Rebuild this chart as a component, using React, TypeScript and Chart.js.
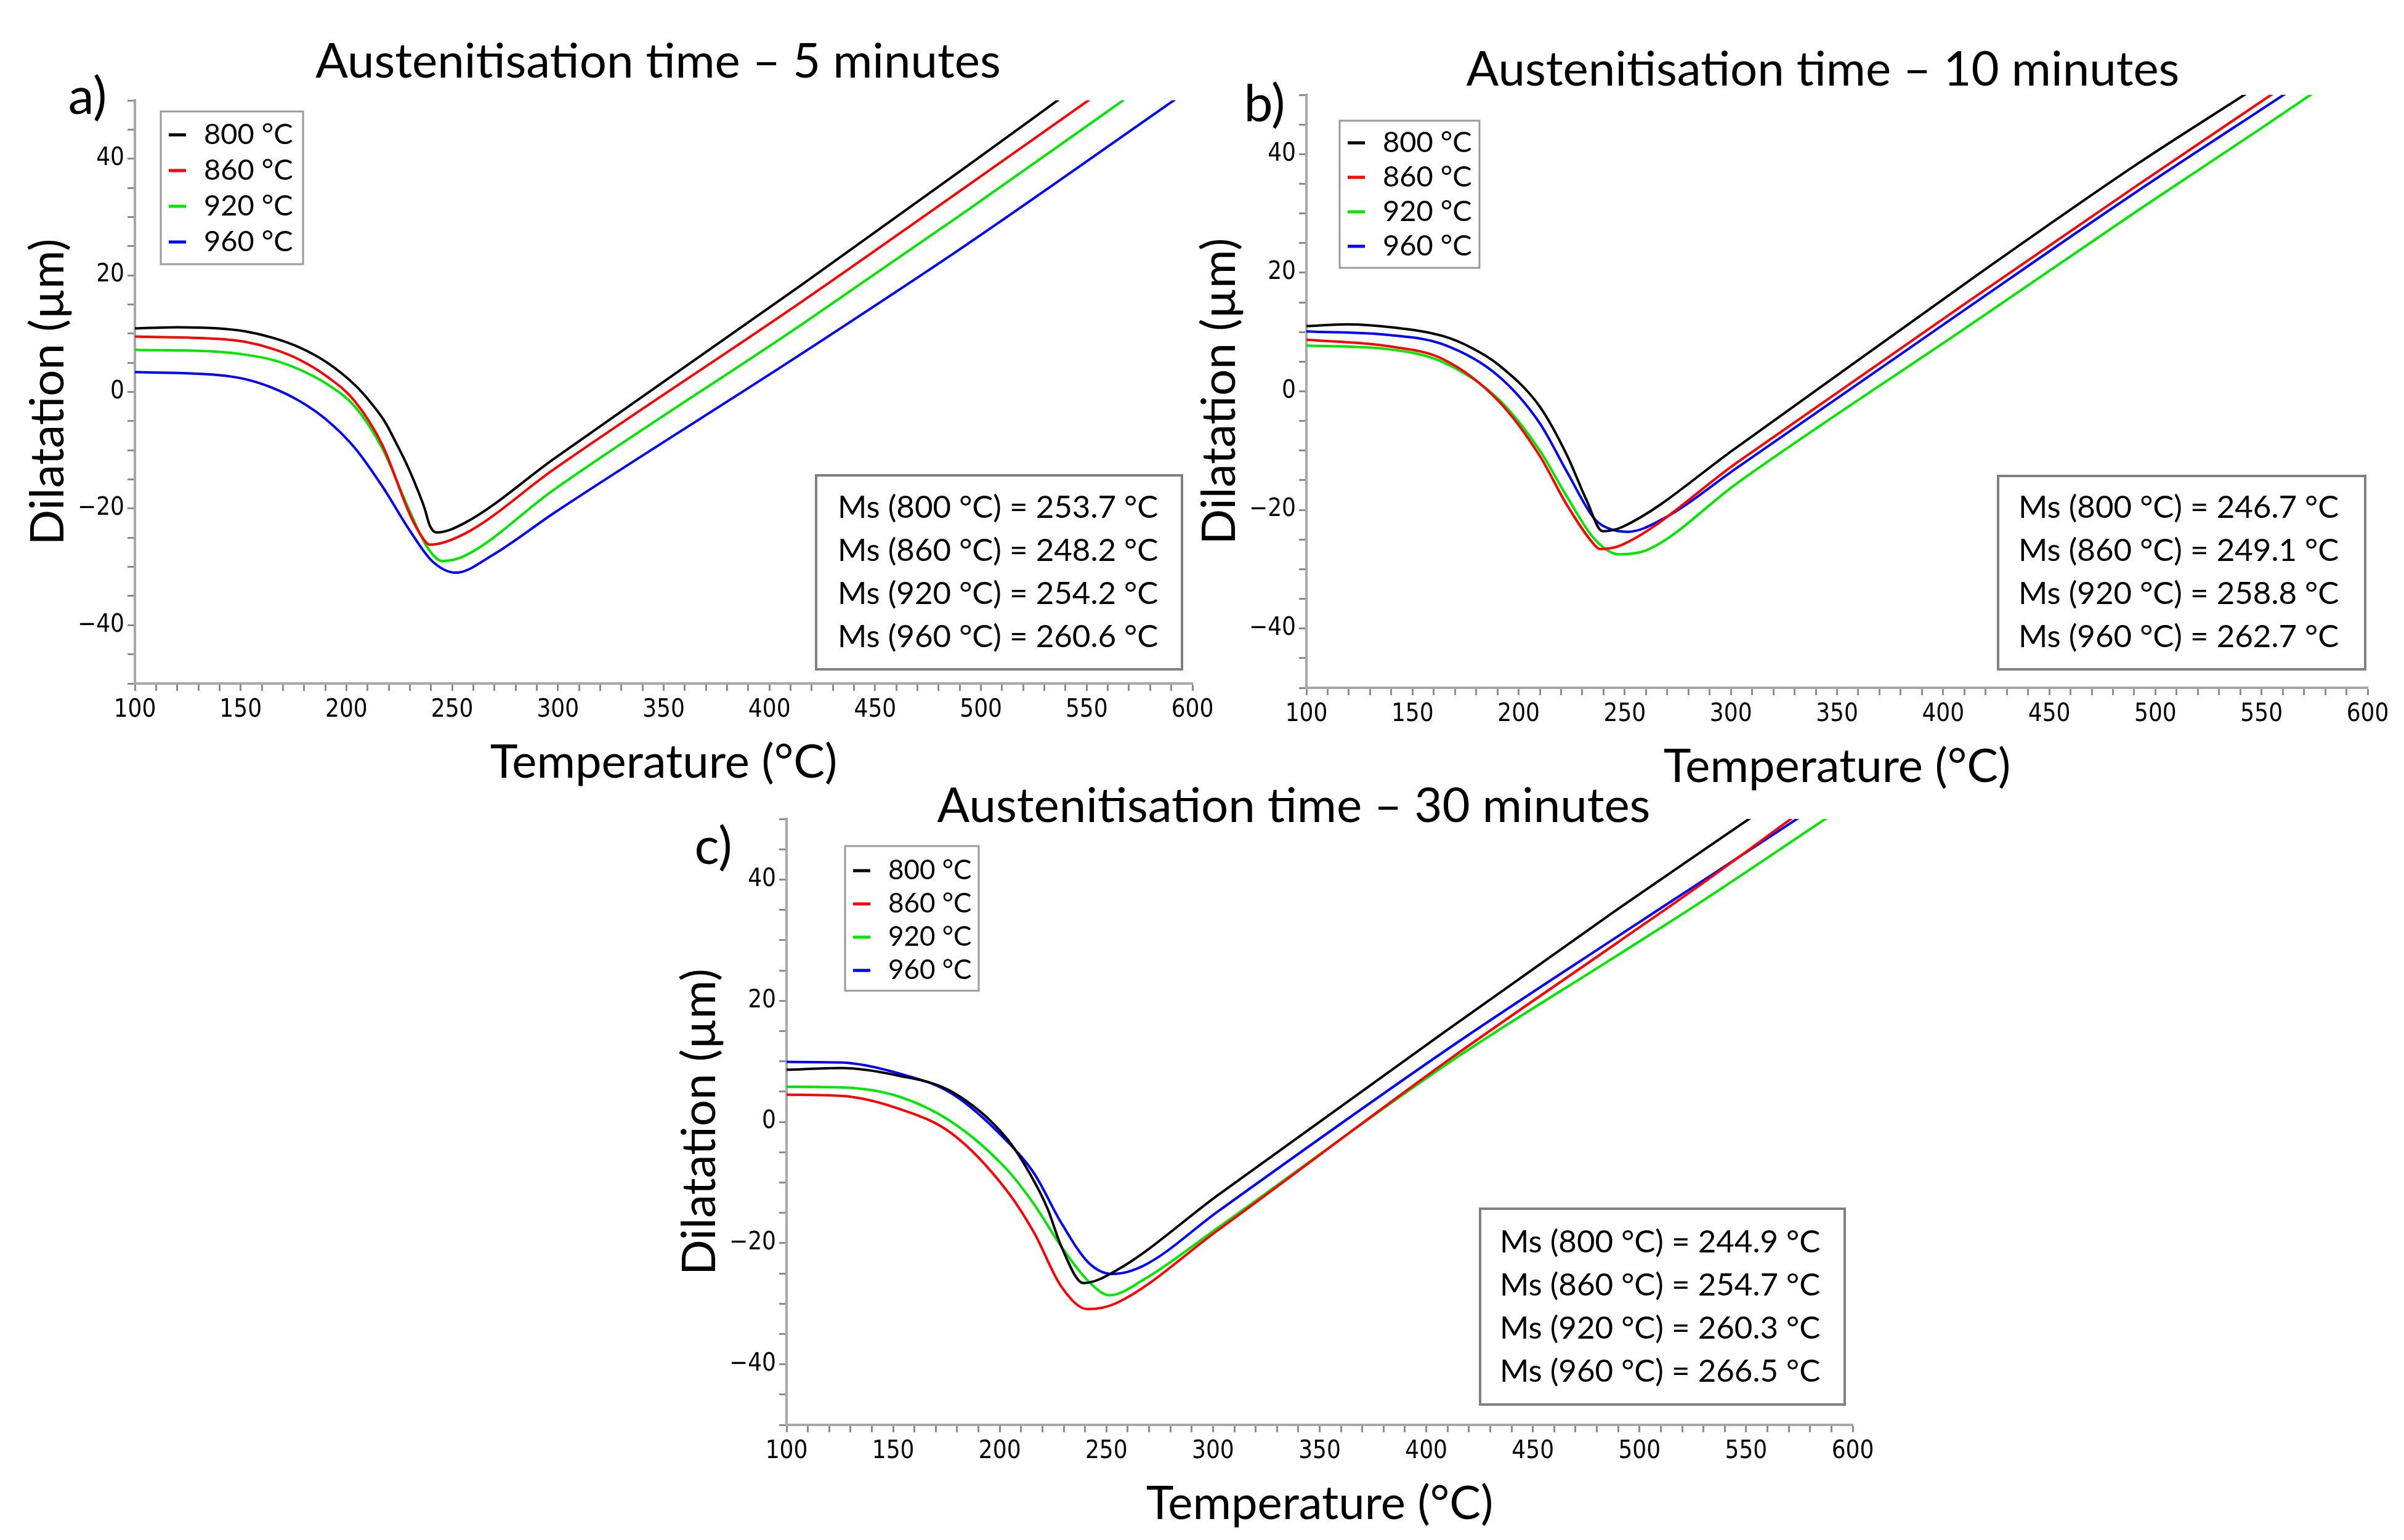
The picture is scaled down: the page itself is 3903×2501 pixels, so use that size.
import { useEffect, useRef } from 'react';
import { Chart, registerables } from 'chart.js';

Chart.register(...registerables);

type Pt = [number, number];

const FONT = 'Lato, "Noto Sans", sans-serif';
const TICK_FONT = '"Liberation Sans Narrow", "DejaVu Sans Condensed", Lato, sans-serif';

// series names and colours (same for every panel)
const seriesLabels = ['800 °C', '860 °C', '920 °C', '960 °C'];
const seriesColors = ['#000000', '#ff0000', '#00e600', '#0000ff'];

// tick labels
const xTickLabels = [100, 150, 200, 250, 300, 350, 400, 450, 500, 550, 600];
const yTickLabels = [-40, -20, 0, 20, 40];

// a) 5 minutes  [temperature °C, dilatation µm]
const a800: Pt[] = [[100, 10.9], [120, 11.1], [139, 10.9], [152, 10.4], [165, 9.3], [178, 7.6], [191, 5.0], [204, 1.2], [211, -1.6], [218, -5.0], [224, -9.1], [229, -12.8], [233, -16.2], [237, -20.0], [239.4, -22.9], [242.6, -24.1], [256.3, -22.4], [298, -11.5], [415, 18.3], [493, 38.6], [537, 50.2]];
const a860: Pt[] = [[100, 9.5], [139, 9.1], [152, 8.6], [165, 7.4], [178, 5.5], [191, 2.6], [204, -1.6], [217, -9.1], [230, -21.0], [236, -25.0], [239.4, -26.2], [256, -24.3], [298, -13.3], [415, 15.4], [493, 35.2], [552, 50.3]];
const a920: Pt[] = [[100, 7.2], [139, 6.9], [152, 6.4], [165, 5.5], [178, 3.8], [191, 1.3], [204, -2.5], [217, -9.7], [230, -20.5], [238, -26.5], [245.2, -29.0], [256, -28.1], [298, -16.8], [415, 11.5], [493, 31.0], [568, 50.2]];
const a960: Pt[] = [[100, 3.4], [139, 2.9], [152, 2.2], [165, 0.7], [178, -1.6], [191, -4.9], [204, -9.6], [217, -16.2], [230, -23.8], [240.5, -29.0], [251.7, -31.0], [269, -28.0], [298, -20.8], [415, 6.5], [493, 25.2], [592, 50.2]];
const msA = ['253.7', '248.2', '254.2', '260.6'];

// b) 10 minutes
const b800: Pt[] = [[100, 11.0], [119, 11.3], [140, 10.8], [164.5, 9.3], [178, 7.3], [190.4, 4.5], [209.8, -2.5], [222.8, -10.8], [231.9, -18.3], [239.6, -23.6], [248.7, -22.9], [302.9, -9.4], [413.6, 19.0], [491.3, 38.3], [542.8, 50.2]];
const b860: Pt[] = [[100, 8.7], [138.7, 7.6], [164.5, 5.4], [190.4, -1.6], [209.8, -10.8], [222.8, -19.2], [235.7, -25.9], [238.3, -26.6], [248.7, -25.9], [302.9, -12.0], [413.6, 15.6], [491.3, 34.7], [555.4, 50.2]];
const b920: Pt[] = [[100, 7.7], [138.7, 7.1], [164.5, 4.9], [190.4, -1.3], [209.8, -9.9], [222.8, -17.8], [235.7, -24.9], [247.4, -27.5], [261.6, -26.6], [302.9, -15.5], [413.6, 11.4], [491.3, 30.4], [549.6, 44.3], [573.9, 50.2]];
const b960: Pt[] = [[100, 10.1], [138.7, 9.5], [164.5, 7.9], [190.4, 2.6], [209.8, -5.3], [222.8, -13.6], [235.7, -21.5], [242.2, -23.1], [251.3, -23.7], [268.1, -21.5], [302.9, -12.9], [413.6, 14.6], [491.3, 33.7], [561.3, 50.2]];
const msB = ['246.7', '249.1', '258.8', '262.7'];

// c) 30 minutes
const c800: Pt[] = [[100, 8.6], [125.8, 8.9], [151.6, 7.7], [177.4, 5.0], [203.2, -2.7], [216.1, -9.8], [222.5, -14.4], [228.9, -20.6], [239.3, -26.6], [254.7, -24.5], [302.2, -12.1], [411.6, 15.6], [489.7, 35.1], [552.2, 50.2]];
const c860: Pt[] = [[100, 4.5], [125.8, 4.3], [151.6, 2.3], [177.4, -1.9], [203.2, -11.3], [216.1, -18.3], [228.9, -27.2], [241.2, -30.9], [254.7, -29.9], [302.2, -17.9], [411.6, 10.5], [489.7, 29.6], [528.8, 39.2], [571.8, 50.2]];
const c920: Pt[] = [[100, 5.8], [125.8, 5.7], [151.6, 4.3], [177.4, 0.0], [203.2, -7.8], [216.1, -13.6], [228.9, -20.6], [241.8, -26.4], [251.5, -28.6], [267.6, -26.0], [302.2, -17.5], [411.6, 10.0], [489.7, 27.5], [528.8, 36.3], [588, 50.2]];
const c960: Pt[] = [[100, 9.9], [125.8, 9.8], [151.6, 8.1], [177.4, 4.7], [203.2, -3.1], [216.1, -8.5], [228.9, -16.7], [241.8, -23.3], [252.8, -25.1], [267.6, -23.7], [302.2, -14.8], [411.6, 12.4], [489.7, 30.6], [528.8, 39.6], [574.7, 50.2]];
const msC = ['244.9', '254.7', '260.3', '266.5'];

// space kept around the plot area inside every canvas
const M = { l: 220, t: 160, r: 50, b: 175 };
const X_AXIS_H = 174;

interface Area { left: number; top: number; right: number; bottom: number }
interface LegendBox { dx: number; dy: number; w: number; h: number; row0: number; gap: number; font: number }
interface MsBox { dr: number; db: number; w: number; h: number; row0: number; gap: number; pad: number }

interface PanelProps {
  area: Area;
  title: string;
  titleDx: number;
  titleDy: number;
  letter: string;
  letterDx: number;
  letterDy: number;
  series: Pt[][];
  ms: string[];
  legend: LegendBox;
  msBox: MsBox;
}

const decorPlugin = {
  id: 'decor',
  afterDraw(chart: any, _args: any, o: any) {
    const { ctx, chartArea: ca } = chart;
    ctx.save();
    ctx.textBaseline = 'middle';
    ctx.fillStyle = '#000';

    // panel title and letter
    ctx.textAlign = 'center';
    ctx.font = `78px ${FONT}`;
    ctx.fillText(o.title, (ca.left + ca.right) / 2 + o.titleDx, ca.top + o.titleDy);
    ctx.font = `84px ${FONT}`;
    ctx.fillText(o.letter, ca.left + o.letterDx, ca.top + o.letterDy);

    // legend box, top left
    const lg: LegendBox = o.legend;
    const lx = ca.left + lg.dx;
    const ly = ca.top + lg.dy;
    ctx.fillStyle = '#fff';
    ctx.fillRect(lx, ly, lg.w, lg.h);
    ctx.strokeStyle = '#9a9a9a';
    ctx.lineWidth = 3;
    ctx.strokeRect(lx, ly, lg.w, lg.h);
    ctx.font = `${lg.font}px ${FONT}`;
    ctx.textAlign = 'left';
    chart.data.datasets.forEach((ds: any, i: number) => {
      const y = ly + lg.row0 + i * lg.gap;
      ctx.strokeStyle = ds.borderColor;
      ctx.lineWidth = 5;
      ctx.beginPath();
      ctx.moveTo(lx + 13, y);
      ctx.lineTo(lx + 41, y);
      ctx.stroke();
      ctx.fillStyle = '#000';
      ctx.fillText(ds.label, lx + 70, y);
    });

    // Ms box, bottom right
    const mb: MsBox = o.msBox;
    const mx = ca.right - mb.dr - mb.w;
    const my = ca.bottom - mb.db - mb.h;
    ctx.fillStyle = '#fff';
    ctx.fillRect(mx, my, mb.w, mb.h);
    ctx.strokeStyle = '#808080';
    ctx.lineWidth = 4;
    ctx.strokeRect(mx, my, mb.w, mb.h);
    ctx.font = `51px ${FONT}`;
    ctx.fillStyle = '#000';
    o.ms.forEach((v: string, i: number) => {
      ctx.fillText(`Ms (${seriesLabels[i]}) = ${v} °C`, mx + mb.pad, my + mb.row0 + i * mb.gap);
    });
    ctx.restore();
  },
};

function Panel(p: PanelProps) {
  const canvasRef = useRef<HTMLCanvasElement | null>(null);
  const width = p.area.right - p.area.left + M.l + M.r;
  const height = p.area.bottom - p.area.top + M.t + M.b;

  useEffect(() => {
    const ctx = canvasRef.current?.getContext('2d');
    if (!ctx) return;

    const chart = new Chart(ctx, {
      type: 'line',
      data: {
        datasets: p.series.map((s, i) => ({
          label: seriesLabels[i],
          data: s.map(([x, y]) => ({ x, y })),
          borderColor: seriesColors[i],
          backgroundColor: seriesColors[i],
          borderWidth: 4,
          pointRadius: 0,
          cubicInterpolationMode: 'monotone' as const,
          fill: false,
        })),
      },
      options: {
        responsive: false,
        animation: false,
        devicePixelRatio: 1,
        layout: { padding: { left: 0, top: M.t, right: M.r, bottom: M.b - X_AXIS_H } },
        plugins: {
          legend: { display: false },
          tooltip: { enabled: false },
          decor: {
            title: p.title,
            titleDx: p.titleDx,
            titleDy: p.titleDy,
            letter: p.letter,
            letterDx: p.letterDx,
            letterDy: p.letterDy,
            legend: p.legend,
            msBox: p.msBox,
            ms: p.ms,
          },
        } as any,
        scales: {
          x: {
            type: 'linear',
            min: 100,
            max: 600,
            afterFit: (s: any) => { s.height = X_AXIS_H; },
            border: { display: true, color: '#a8a8a8', width: 4 },
            grid: { drawOnChartArea: false, drawTicks: true, tickLength: 12, tickColor: '#8c8c8c', tickWidth: 3 },
            ticks: {
              stepSize: 10,
              autoSkip: false,
              maxRotation: 0,
              padding: 8,
              color: '#000',
              font: { family: TICK_FONT, size: 40 },
              callback: (v: any) => (xTickLabels.includes(Number(v)) ? String(v) : ''),
            },
            title: {
              display: true,
              text: 'Temperature (°C)',
              color: '#000',
              font: { family: FONT, size: 76 },
              padding: { top: 0, bottom: 0 },
            },
          },
          y: {
            type: 'linear',
            min: -50,
            max: 50,
            afterFit: (s: any) => { s.width = M.l; },
            border: { display: true, color: '#a8a8a8', width: 4 },
            grid: { drawOnChartArea: false, drawTicks: true, tickLength: 12, tickColor: '#8c8c8c', tickWidth: 3 },
            ticks: {
              stepSize: 5,
              autoSkip: false,
              padding: 5,
              color: '#000',
              font: { family: TICK_FONT, size: 40 },
              callback: (v: any) => {
                const n = Number(v);
                if (!yTickLabels.includes(n)) return '';
                return n < 0 ? `\u2212${Math.abs(n)}` : String(n);
              },
            },
            title: {
              display: true,
              text: 'Dilatation (µm)',
              color: '#000',
              font: { family: FONT, size: 76 },
              padding: { top: 34, bottom: 0 },
            },
          },
        },
      },
      plugins: [decorPlugin],
    });

    return () => {
      chart.destroy();
    };
  }, []);

  return (
    <canvas
      ref={canvasRef}
      width={width}
      height={height}
      style={{
        position: 'absolute',
        left: p.area.left - M.l,
        top: p.area.top - M.t,
        width,
        height,
      }}
    />
  );
}

export default function App() {
  return (
    <div
      style={{
        position: 'absolute',
        left: 0,
        top: 0,
        width: 3903,
        height: 2501,
        background: '#fff',
        overflow: 'hidden',
      }}
    >
      <Panel
        area={{ left: 219, top: 163, right: 1936, bottom: 1110 }}
        title="Austenitisation time – 5 minutes"
        titleDx={-9}
        titleDy={-62}
        letter="a)"
        letterDx={-77}
        letterDy={-5}
        series={[a800, a860, a920, a960]}
        ms={msA}
        legend={{ dx: 42, dy: 18, w: 231, h: 248, row0: 38, gap: 58, font: 47 }}
        msBox={{ dr: 17, db: 23, w: 594, h: 315, row0: 53, gap: 70, pad: 35 }}
      />
      <Panel
        area={{ left: 2121, top: 154, right: 3844, bottom: 1117 }}
        title="Austenitisation time – 10 minutes"
        titleDx={-23}
        titleDy={-40}
        letter="b)"
        letterDx={-68}
        letterDy={16}
        series={[b800, b860, b920, b960]}
        ms={msB}
        legend={{ dx: 54, dy: 42, w: 227, h: 239, row0: 36, gap: 56, font: 47 }}
        msBox={{ dr: 4, db: 30, w: 596, h: 314, row0: 52, gap: 70, pad: 33 }}
      />
      <Panel
        area={{ left: 1277, top: 1330, right: 3008, bottom: 2314 }}
        title="Austenitisation time – 30 minutes"
        titleDx={-42}
        titleDy={-20}
        letter="c)"
        letterDx={-119}
        letterDy={46}
        series={[c800, c860, c920, c960]}
        ms={msC}
        legend={{ dx: 95, dy: 44, w: 217, h: 235, row0: 40, gap: 54, font: 44 }}
        msBox={{ dr: 13, db: 33, w: 592, h: 318, row0: 55, gap: 70, pad: 32 }}
      />
    </div>
  );
}
